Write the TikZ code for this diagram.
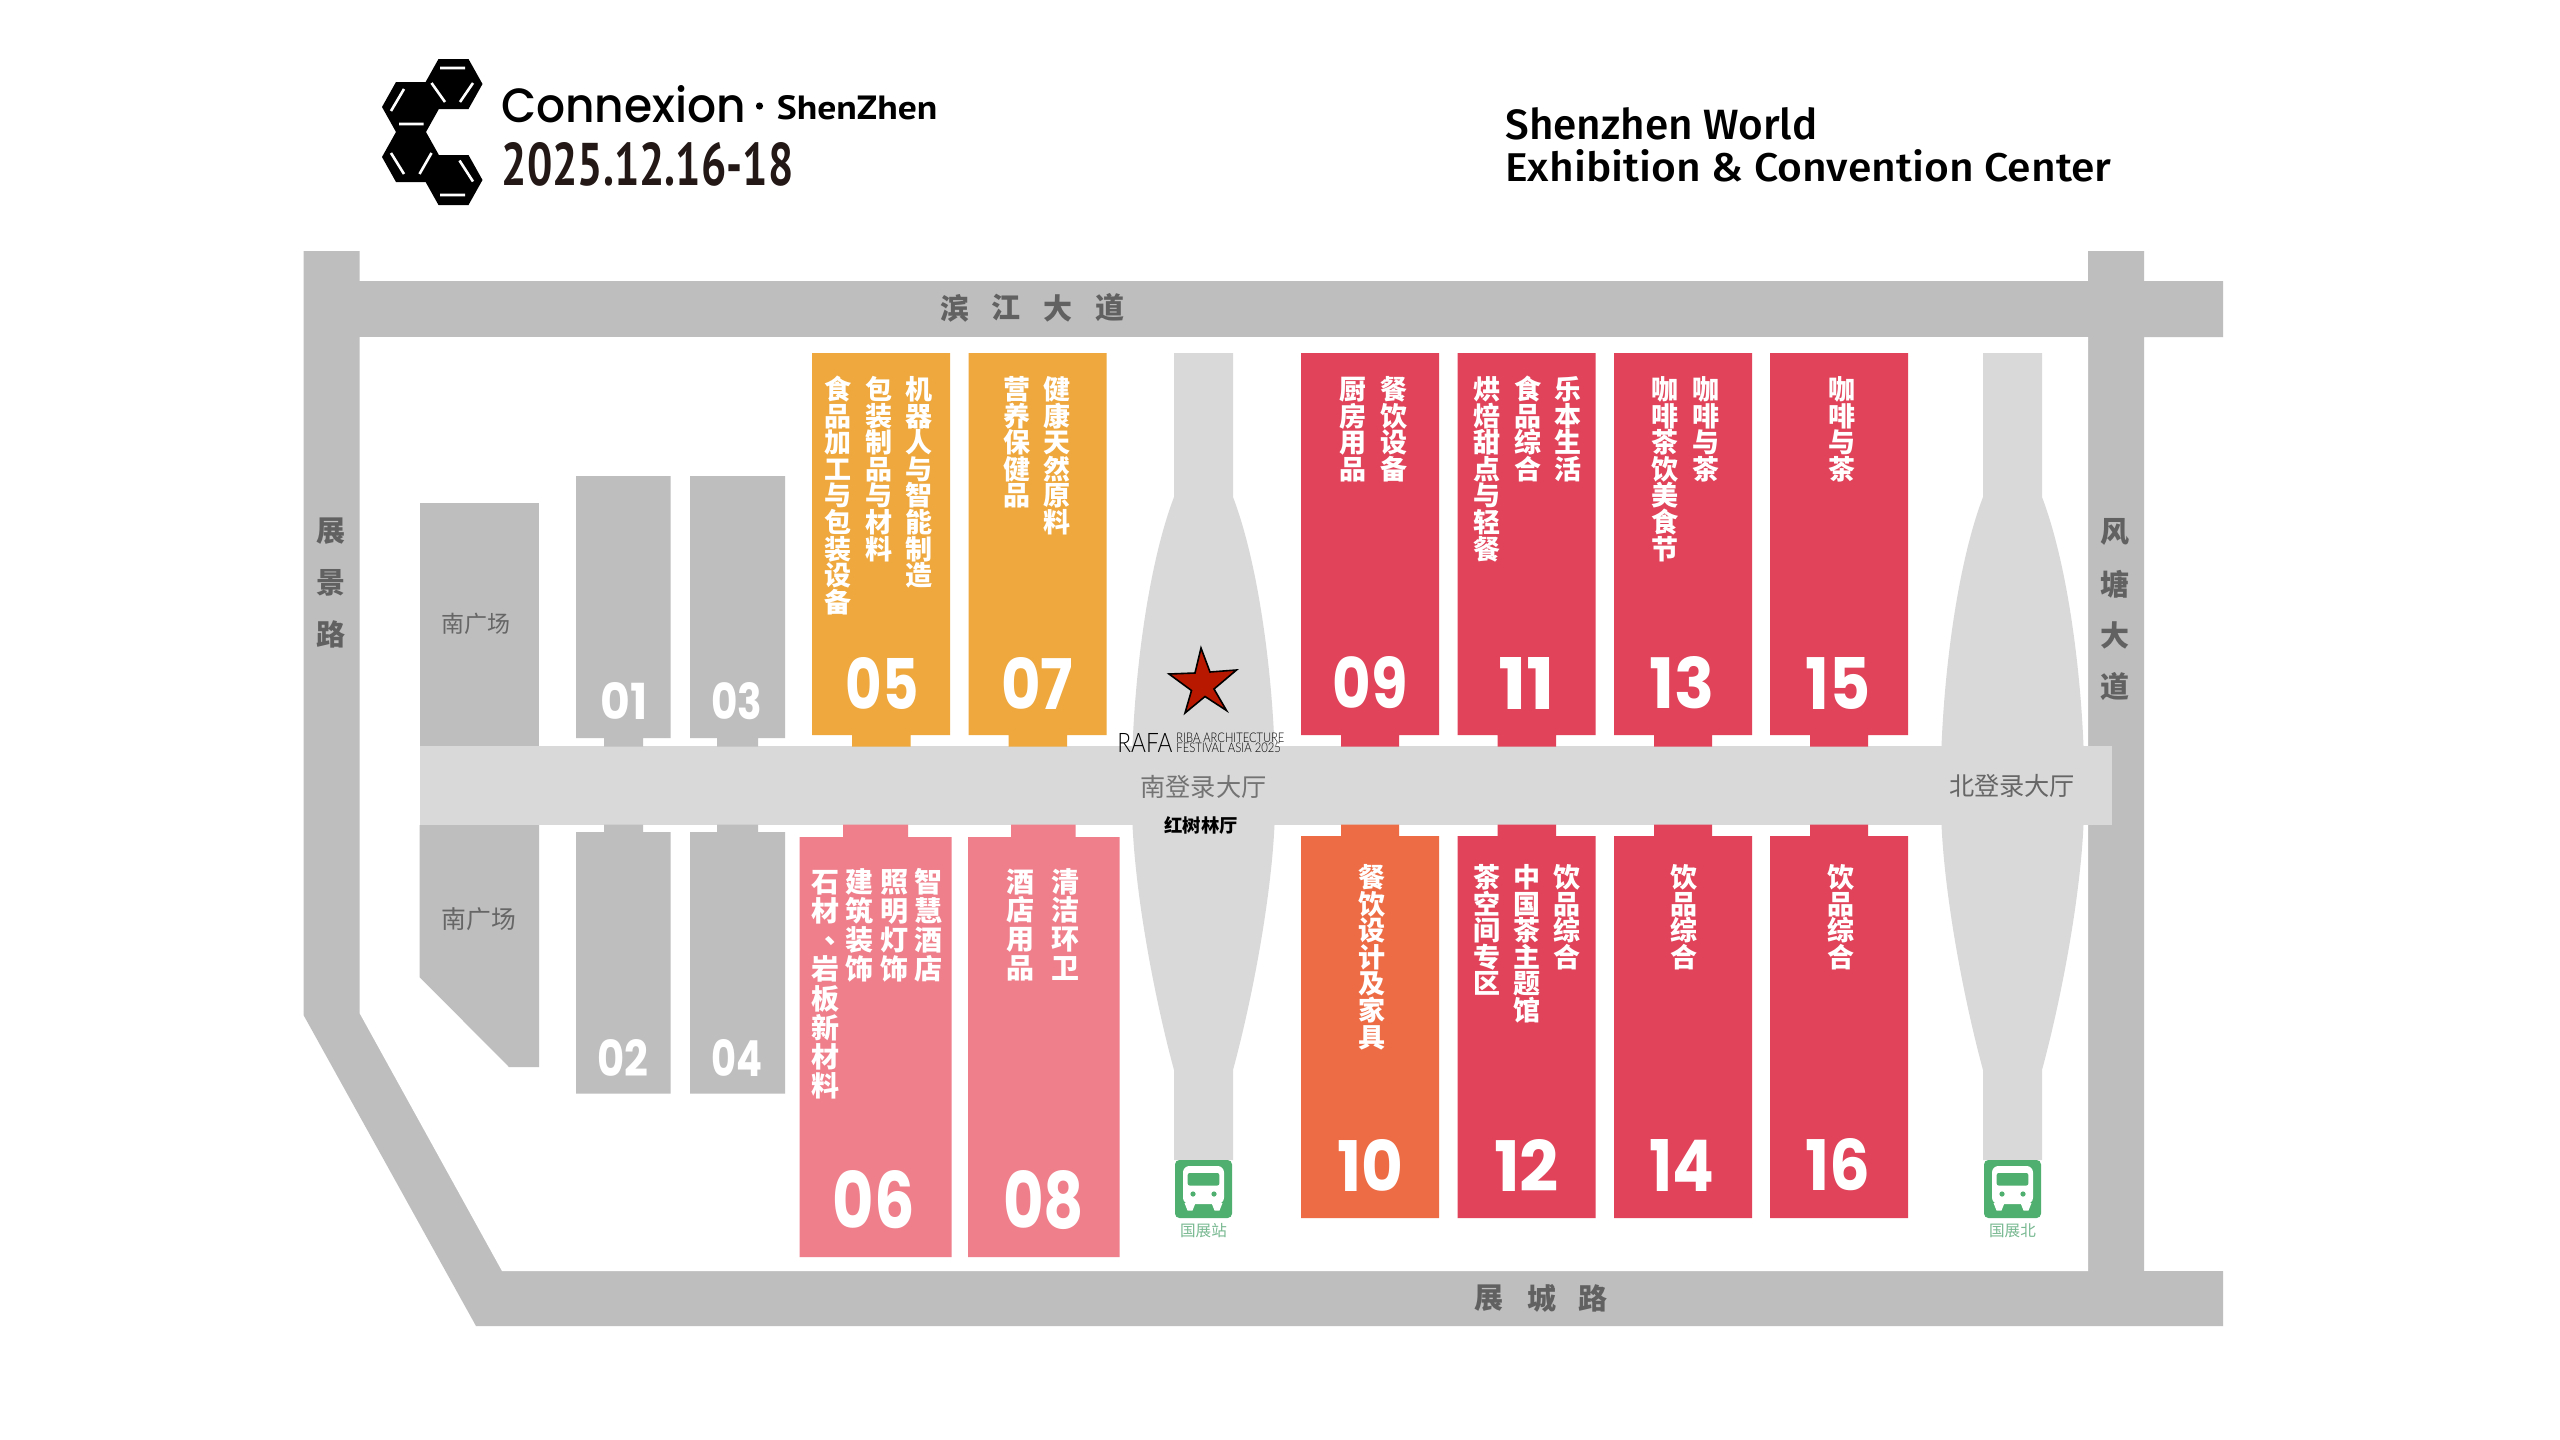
\documentclass[tikz,border=0pt]{standalone}
\usepackage{graphicx}
\usepackage{fontspec}
\newfontfamily\cjk{Noto Sans CJK SC}
\newfontfamily\numf{PT Sans}
\newfontfamily\popf{Poppins}
\newfontfamily\popm{Poppins Medium}
\newfontfamily\firam{Fira Sans Medium}
\newfontfamily\latof{Lato Light}
\definecolor{road}{HTML}{BEBEBE}
\definecolor{lobby}{HTML}{D9D9D9}
\definecolor{hallO}{HTML}{EEA83D}
\definecolor{hallR}{HTML}{E0435A}
\definecolor{hallP}{HTML}{EF7F8B}
\definecolor{hallC}{HTML}{EE6C45}
\definecolor{busG}{HTML}{4FAF6E}
\definecolor{busT}{HTML}{78B991}
\definecolor{dk}{HTML}{231815}
\definecolor{starR}{HTML}{B81800}
\newcommand\fit[3]{\resizebox{\dimexpr#1pt*1/2\relax}{\dimexpr#2pt*1/2\relax}{#3}}
\ExplSyntaxOn
\NewDocumentCommand\vt{mmm}{
  \vbox{\offinterlineskip\fontsize{#1}{#1}\selectfont
    \tl_map_inline:nn{#3}{
      \hbox_to_wd:nn{#1pt}{\hss\vbox_to_ht:nn{#2pt}{\vss\hbox:n{\rule[-0.12em]{0pt}{1em}##1}\vss}\hss}
    }
  }
}
\ExplSyntaxOff
\tikzset{
  lbl/.style={inner sep=0pt,outer sep=0pt,text=white,font=\cjk\bfseries},
  stack/.style={lbl,anchor=north},
  numb/.style={inner sep=0pt,outer sep=0pt,text=white,font=\popf\bfseries},
  gr/.style={inner sep=0pt,outer sep=0pt,text=#1,font=\cjk},
  grb/.style={inner sep=0pt,outer sep=0pt,text=#1,font=\cjk\bfseries}
}
\newcommand\hallU[7]{\fill[#7] (#1,#3) rectangle (#2,#4) (#5,#4) rectangle (#6,746.5);}
\newcommand\hallD[7]{\fill[#7] (#1,#3) rectangle (#2,#4) (#5,824.5) rectangle (#6,#3);}
\newcommand\bottle[1]{\fill[lobby,shift={(#1,0)}] (-29.5,353) -- (-29.5,497)
  .. controls (-53.5,560) and (-67.5,660) .. (-71,746) -- (-71,825)
  .. controls (-67.5,900) and (-48.5,1000) .. (-29.5,1070) -- (-29.5,1160)
  -- (29.5,1160) -- (29.5,1070)
  .. controls (48.5,1000) and (67.5,900) .. (71,825) -- (71,746)
  .. controls (67.5,660) and (53.5,560) .. (29.5,497) -- (29.5,353) -- cycle;}
\newcommand\bus[1]{\begin{scope}[shift={(#1,0)}]
  \fill[busG,rounded corners=2.2pt] (-28.5,1160) rectangle (28.5,1218);
  \fill[white] (-19,1203) -- (-16,1210.5) -- (-11,1210.5) -- (-8,1203) -- cycle;
  \fill[white] (8,1203) -- (11,1210.5) -- (16,1210.5) -- (19,1203) -- cycle;
  \fill[white,rounded corners=3.2pt] (-20.5,1166) rectangle (20.5,1204);
  \fill[busG,rounded corners=1pt] (-15.8,1173) rectangle (15.8,1185.5);
  \fill[busG] (-10.5,1194) circle (2.6) (10.5,1194) circle (2.6);
\end{scope}}
\newcommand\hexa[2]{(#1-29,#2) -- (#1-15,#2-25) -- (#1+15,#2-25) -- (#1+29,#2) -- (#1+15,#2+25) -- (#1-15,#2+25) -- cycle}
\begin{document}
\begin{tikzpicture}[x=0.5pt,y=-0.5pt]
\useasboundingbox (0,0) rectangle (2560,1440);
\fill[white] (0,0) rectangle (2560,1440);
% roads
\fill[road] (303.5,251) -- (359.5,251) -- (359.5,281) -- (2088,281) -- (2088,251) -- (2144,251) -- (2144,281) -- (2223,281) -- (2223,337) -- (2144,337) -- (2144,1271) -- (2223,1271) -- (2223,1326) -- (476,1326) -- (303.5,1015) -- cycle;
\fill[white] (359.5,337) -- (2088,337) -- (2088,1271) -- (502,1271) -- (359.5,1013) -- cycle;
% bottles and lobby
\bottle{1203.5}
\bottle{2012.5}
\fill[lobby] (419.5,746) rectangle (2112,825);
% plazas
\fill[road] (419.5,503) rectangle (539,746);
\fill[road] (419.5,825) -- (539,825) -- (539,1067) -- (509,1067) -- (419.5,977) -- cycle;
% grey halls
\hallU{576}{670.5}{476}{738}{604}{643}{road}
\hallU{690}{785}{476}{738}{717}{758}{road}
\hallD{576}{670.5}{832}{1093.5}{604}{643}{road}
\hallD{690}{785}{832}{1093.5}{717}{758}{road}
% upper halls
\hallU{812}{950}{353}{735}{852}{910.5}{hallO}
\hallU{968.5}{1106.5}{353}{735}{1008.5}{1067}{hallO}
\hallU{1301}{1439}{353}{735}{1341}{1399}{hallR}
\hallU{1457.5}{1595.5}{353}{735}{1497.5}{1556}{hallR}
\hallU{1614}{1752}{353}{735}{1654}{1712}{hallR}
\hallU{1770}{1908}{353}{735}{1810}{1868}{hallR}
% lower halls
\hallD{799.5}{951.5}{837}{1257}{843}{908}{hallP}
\hallD{968}{1119.5}{837}{1257}{1011}{1075.5}{hallP}
\hallD{1301}{1439}{836}{1218}{1341}{1399}{hallC}
\hallD{1457.5}{1595.5}{836}{1218}{1497.5}{1556}{hallR}
\hallD{1614}{1752}{836}{1218}{1654}{1712}{hallR}
\hallD{1770}{1908}{836}{1218}{1810}{1868}{hallR}
% bus icons
\bus{1203.5}
\bus{2012.5}
\node[gr=busT,font=\cjk\fontsize{7.8}{8}\selectfont] (busS) at (1203.5,1231) {国展站};
\node[gr=busT,font=\cjk\fontsize{7.8}{8}\selectfont] (busN) at (2012.5,1231) {国展北};
% hall labels
\def\tp{376}
\node[stack] (a1) at (838,\tp) {\vt{13.5}{13.3}{食品加工与包装设备}};
\node[stack] (a2) at (879,\tp) {\vt{13.5}{13.3}{包装制品与材料}};
\node[stack] (a3) at (919,\tp) {\vt{13.5}{13.3}{机器人与智能制造}};
\node[stack] (b1) at (1017,\tp) {\vt{13.5}{13.3}{营养保健品}};
\node[stack] (b2) at (1057,\tp) {\vt{13.5}{13.3}{健康天然原料}};
\node[stack] (c1) at (1353,\tp) {\vt{13.5}{13.3}{厨房用品}};
\node[stack] (c2) at (1394,\tp) {\vt{13.5}{13.3}{餐饮设备}};
\node[stack] (d1) at (1487,\tp) {\vt{13.5}{13.3}{烘焙甜点与轻餐}};
\node[stack] (d2) at (1528,\tp) {\vt{13.5}{13.3}{食品综合}};
\node[stack] (d3) at (1568,\tp) {\vt{13.5}{13.3}{乐本生活}};
\node[stack] (e1) at (1665,\tp) {\vt{13.5}{13.3}{咖啡茶饮美食节}};
\node[stack] (e2) at (1706,\tp) {\vt{13.5}{13.3}{咖啡与茶}};
\node[stack] (f1) at (1842,\tp) {\vt{13.5}{13.3}{咖啡与茶}};
\def\tq{864}
\node[stack] (g1) at (1371.5,\tq) {\vt{13.5}{13.3}{餐饮设计及家具}};
\node[stack] (h1) at (1486.5,\tq) {\vt{13.5}{13.3}{茶空间专区}};
\node[stack] (h2) at (1527,\tq) {\vt{13.5}{13.3}{中国茶主题馆}};
\node[stack] (h3) at (1567,\tq) {\vt{13.5}{13.3}{饮品综合}};
\node[stack] (i1) at (1684,\tq) {\vt{13.5}{13.3}{饮品综合}};
\node[stack] (j1) at (1841,\tq) {\vt{13.5}{13.3}{饮品综合}};
\def\tr{867}
\node[stack] (k1) at (825,\tr) {\vt{14}{14.6}{石材}};
\node[lbl,font=\cjk\bfseries\fontsize{14}{14}\selectfont] (k1b) at (831,941) {\makebox[7pt][l]{、}};
\node[stack] (k1c) at (825,954.6) {\vt{14}{14.6}{岩板新材料}};
\node[stack] (k2) at (859.5,\tr) {\vt{14}{14.6}{建筑装饰}};
\node[stack] (k3) at (894.5,\tr) {\vt{14}{14.6}{照明灯饰}};
\node[stack] (k4) at (928.5,\tr) {\vt{14}{14.6}{智慧酒店}};
\node[stack] (l1) at (1020,\tr) {\vt{14}{14.4}{酒店用品}};
\node[stack] (l2) at (1065.5,\tr) {\vt{14}{14.4}{清洁环卫}};
% hall numbers
\node[numb] (n05) at (882,683) {\fit{73}{52}{05}};
\node[numb] (n07) at (1037,683) {\fit{72}{52}{07}};
\node[numb] (n09) at (1370,683) {\fit{75}{52}{09}};
\node[numb] (n11) at (1526.5,683) {\fit{57}{52}{11}};
\node[numb] (n13) at (1682,683) {\fit{65}{52}{13}};
\node[numb] (n15) at (1838,683) {\fit{65}{52}{15}};
\node[numb] (n10) at (1370,1165) {\fit{66}{52}{10}};
\node[numb] (n12) at (1526.5,1165) {\fit{65}{52}{12}};
\node[numb] (n14) at (1682,1165) {\fit{65}{52}{14}};
\node[numb] (n16) at (1838,1165) {\fit{65}{52}{16}};
\node[numb] (n06) at (873.8,1200) {\fit{82}{58}{06}};
\node[numb] (n08) at (1043.5,1200) {\fit{81}{58}{08}};
\node[numb] (n01) at (624,701) {\fit{47}{37}{01}};
\node[numb] (n03) at (737,701) {\fit{51}{37}{03}};
\node[numb] (n02) at (623,1058) {\fit{51}{37}{02}};
\node[numb] (n04) at (737,1058) {\fit{51}{37}{04}};
% plaza and lobby labels
\node[gr=black!60,font=\cjk\fontsize{11.5}{12}\selectfont] (pl1) at (475.5,624) {南广场};
\node[gr=black!60,font=\cjk\fontsize{12.4}{13}\selectfont] (pl2) at (479,919) {南广场};
\node[gr=black!55,font=\cjk\fontsize{12.6}{13}\selectfont] (sl) at (1203.5,787) {南登录大厅};
\node[gr=black!60,font=\cjk\fontsize{12.6}{13}\selectfont] (nl) at (2012,786) {北登录大厅};
\node[grb=black,font=\cjk\bfseries\fontsize{9.2}{10}\selectfont] (hl) at (1201,825) {红树林厅};
% road labels
\foreach \n/\c/\y in {r1/展/531,r2/景/583,r3/路/634}
  \node[grb=black!62,font=\cjk\bfseries\fontsize{14.5}{14.5}\selectfont] (\n) at (331,\y) {\c};
\foreach \n/\c/\y in {s1/风/532,s2/塘/584,s3/大/635,s4/道/687}
  \node[grb=black!62,font=\cjk\bfseries\fontsize{14.5}{14.5}\selectfont] (\n) at (2115,\y) {\c};
\foreach \n/\c/\x in {t1/滨/955,t2/江/1006,t3/大/1058,t4/道/1110}
  \node[grb=black!62,font=\cjk\bfseries\fontsize{14.5}{14.5}\selectfont] (\n) at (\x,308) {\c};
\foreach \n/\c/\x in {u1/展/1489,u2/城/1542,u3/路/1593}
  \node[grb=black!62,font=\cjk\bfseries\fontsize{14.5}{14.5}\selectfont] (\n) at (\x,1298) {\c};
% star and RAFA
\fill[starR,draw=black,line width=0.8pt,line join=miter] (1201,648) -- (1210,672) -- (1236.5,670) -- (1214,689) -- (1226.5,710.5) -- (1205,696.5) -- (1185,713) -- (1191.5,690.5) -- (1169,674) -- (1195,673) -- cycle;
\node[inner sep=0pt,anchor=west,font=\latof] (rafa) at (1117,743) {\fit{55}{19}{RAFA}};
\node[inner sep=0pt,anchor=west,font=\latof] (riba1) at (1176,737.5) {\fit{108}{9.5}{RIBA ARCHITECTURE}};
\node[inner sep=0pt,anchor=west,font=\latof] (riba2) at (1176,747.5) {\fit{104.5}{9.5}{FESTIVAL ASIA 2025}};
% logo
\fill[black] \hexa{453.5}{84} \hexa{411}{107} \hexa{411}{157} \hexa{453.5}{180};
\draw[white,line width=1.3pt] (440,68) -- (465,68) (473,83) -- (460,102) (431.5,83) -- (445,102)
  (404,89) -- (391,111) (399,124) -- (423.5,124)
  (391,153) -- (404,174) (431.5,153) -- (419.5,174)
  (459.5,160.5) -- (473,181.5) (440,195) -- (465,195);
\node[inner sep=0pt,anchor=west,font=\popm] (conn) at (500.7,104.7) {\fit{245}{37}{Connexion}};
\fill[black] (759.5,106) circle (3.6);
\node[inner sep=0pt,anchor=west,font=\numf\bfseries] (shen) at (776.5,107.5) {\fit{160.5}{24}{ShenZhen}};
\node[inner sep=0pt,anchor=west,font=\numf\bfseries,text=dk] (date) at (501.5,164.5) {\fit{291.5}{43}{2025.12.16-18}};
% title
\node[inner sep=0pt,anchor=west,font=\firam] (tt1) at (1505,124) {\fit{312}{32}{Shenzhen World}};
\node[inner sep=0pt,anchor=west,font=\firam] (tt2) at (1505,166) {\fit{606}{32}{Exhibition \& Convention Center}};
\end{tikzpicture}
\end{document}
